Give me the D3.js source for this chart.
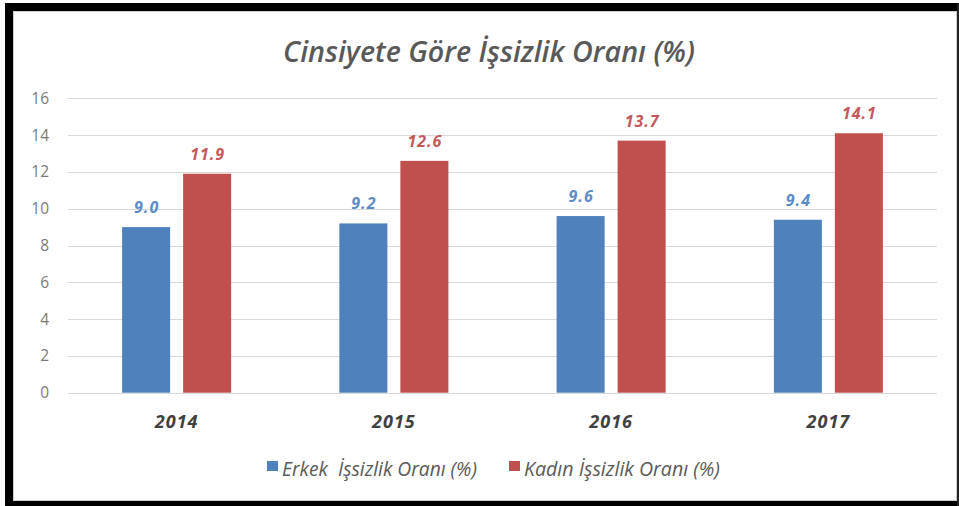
<!DOCTYPE html>
<html><head><meta charset="utf-8">
<script src="https://cdn.jsdelivr.net/npm/d3@7"></script>
<style>
html,body{margin:0;padding:0;background:#fff;}
svg{display:block;font-family:"Open Sans","Noto Sans",sans-serif;}
</style></head>
<body><svg id="c" width="959" height="506"></svg>
<script>
const title = "Cinsiyete Göre İşsizlik Oranı (%)";
const categories = ["2014", "2015", "2016", "2017"];
const seriesNames = ["Erkek  İşsizlik Oranı (%)", "Kadın İşsizlik Oranı (%)"];
const erkek = [9.0, 9.2, 9.6, 9.4];
const kadin = [11.9, 12.6, 13.7, 14.1];
const yTicks = [0, 2, 4, 6, 8, 10, 12, 14, 16];
const colors = ["#4F81BD", "#C0504D"];
const labelColors = ["#5B8BC9", "#C4585A"];

const svg = d3.select("#c");
svg.append("rect").attr("width",959).attr("height",506).attr("fill","#fff");

// frame
svg.append("rect").attr("x",13.5).attr("y",11.5).attr("width",943).attr("height",489)
  .attr("fill","none").attr("stroke","#d0d0d0").attr("stroke-width",1);
svg.append("rect").attr("x",5).attr("y",3).attr("width",954).attr("height",8).attr("fill","#000");
svg.append("rect").attr("x",5).attr("y",3).attr("width",8).attr("height",503).attr("fill","#000");
svg.append("rect").attr("x",5).attr("y",501).attr("width",954).attr("height",5).attr("fill","#000");
svg.append("rect").attr("x",957).attr("y",3).attr("width",2).attr("height",503).attr("fill","#222");

const plot = {left:68, right:937, top:98.3, bottom:392.7};
const y = d3.scaleLinear().domain([0,16]).range([plot.bottom, plot.top]);
const x0 = d3.scaleBand().domain(categories).range([plot.left, plot.right]).padding(0);
const x1 = d3.scaleBand().domain([0,1]).range([0, x0.bandwidth()]).paddingInner(0.213).paddingOuter(0.887);

// gridlines
svg.append("g").selectAll("line").data(yTicks).join("line")
  .attr("x1",plot.left).attr("x2",plot.right)
  .attr("y1",d=>Math.round(y(d))+0.5).attr("y2",d=>Math.round(y(d))+0.5)
  .attr("stroke","#d9d9d9").attr("stroke-width",1.2);

// y axis labels
const yAxis = d3.axisLeft(y).tickValues(yTicks).tickSize(0).tickPadding(0);
const ya = svg.append("g").attr("transform","translate(49,0)").call(yAxis);
ya.select(".domain").remove();
ya.selectAll("text").attr("fill","#7a7a7a").style("font-size","15.5px").style("font-family","'Open Sans',sans-serif");

// bars
const rows = categories.map((c,i)=>({cat:c, vals:[erkek[i], kadin[i]]}));
const g = svg.append("g").selectAll("g").data(rows).join("g")
  .attr("transform",d=>`translate(${x0(d.cat)},0)`);
g.selectAll("rect").data(d=>d.vals.map((v,k)=>({v,k}))).join("rect")
  .attr("x",d=>x1(d.k)).attr("width",x1.bandwidth())
  .attr("y",d=>y(d.v)).attr("height",d=>y(0)-y(d.v))
  .attr("fill",d=>colors[d.k]);
g.selectAll("text").data(d=>d.vals.map((v,k)=>({v,k}))).join("text")
  .attr("x",d=>x1(d.k)+x1.bandwidth()/2+0.5).attr("y",d=>y(d.v)-20)
  .attr("text-anchor","middle").attr("dominant-baseline","central")
  .attr("fill",d=>labelColors[d.k])
  .style("font-size","16px").style("font-weight","bold").style("font-style","italic")
  .style("letter-spacing","1px")
  .text(d=>d.v.toFixed(1));

// x axis labels
const xAxis = d3.axisBottom(x0).tickSize(0).tickPadding(0);
const xa = svg.append("g").attr("transform",`translate(0,${plot.bottom})`).call(xAxis);
xa.select(".domain").remove();
xa.selectAll("text").attr("dy",null).attr("y",28).attr("dominant-baseline","central")
  .attr("fill","#404040").style("font-size","18px").style("font-weight","bold").style("font-style","italic")
  .style("letter-spacing","1px")
  .style("font-family","'Open Sans',sans-serif");

// title
function fit(sel, w){
  const n = sel.node(); const cur = n.getComputedTextLength();
  const fs = parseFloat(sel.style("font-size"));
  sel.style("font-size",(fs*w/cur)+"px");
}
const t = svg.append("text").attr("x",489).attr("y",50).attr("text-anchor","middle")
  .attr("dominant-baseline","central").attr("fill","#595959")
  .style("font-size","22px").style("font-style","italic").style("font-weight","600").text(title);
fit(t, 412);

// legend
const legX = [267, 509];
const legW = [195, 196];
seriesNames.forEach((s,i)=>{
  svg.append("rect").attr("x",legX[i]).attr("y",461).attr("width",11).attr("height",10).attr("fill",colors[i]);
  const lt = svg.append("text").attr("x",legX[i]+15).attr("y",468).attr("dominant-baseline","central")
    .attr("fill","#595959").style("font-size","13px").style("font-style","italic").style("white-space","pre")
    .attr("xml:space","preserve").text(s);
  fit(lt, legW[i]);
});
</script></body></html>
